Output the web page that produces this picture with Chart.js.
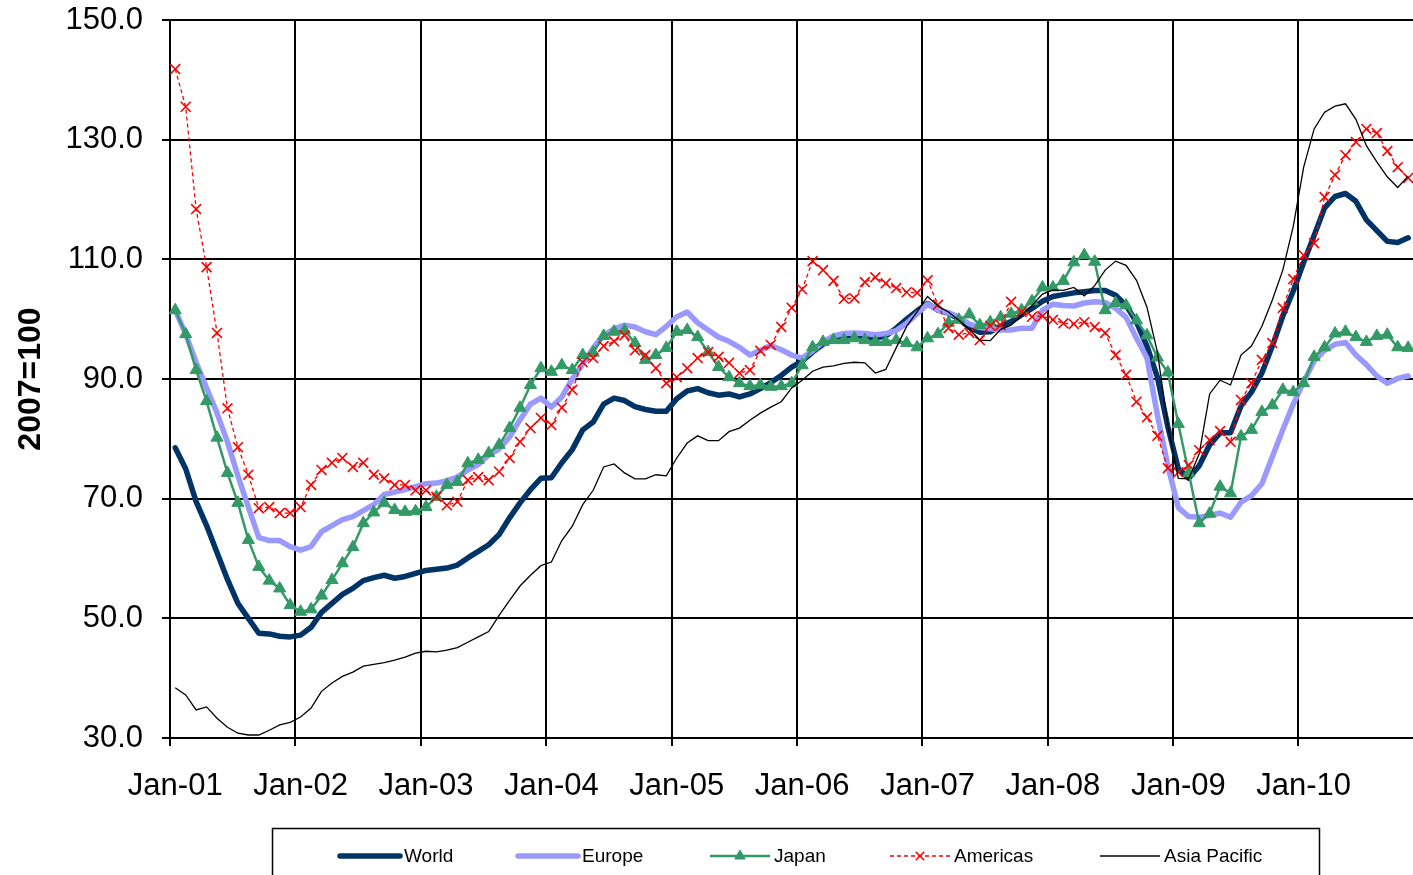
<!DOCTYPE html>
<html>
<head>
<meta charset="utf-8">
<script src="https://cdn.jsdelivr.net/npm/chart.js@4.4.1/dist/chart.umd.min.js"></script>
<style>
  html, body { margin: 0; padding: 0; background: #fff; overflow: hidden; }
  #wrap { width: 1413px; height: 875px; position: relative; overflow: hidden; }
  #chart { position: absolute; left: 0; top: 0; }
</style>
</head>
<body>
<div id="wrap"><canvas id="chart" width="1422" height="875"></canvas></div>
<script>
// months Jan-01 .. Nov-10 (the plot is cut at the right edge, like the original)
const monthNames = ['Jan','Feb','Mar','Apr','May','Jun','Jul','Aug','Sep','Oct','Nov','Dec'];
const years = ['01','02','03','04','05','06','07','08','09','10'];
const categories = [];
years.forEach(y => monthNames.forEach(m => categories.push(m + '-' + y)));
categories.length = 119;

const yTicks = [30, 50, 70, 90, 110, 130, 150];

const world = [
  78.5, 75, 69.5, 65.5, 61, 56.5, 52.5, 50, 47.5, 47.4, 47, 46.9,
  47.2, 48.5, 51, 52.5, 54, 55, 56.3, 56.8, 57.2, 56.7, 57, 57.5,
  58, 58.2, 58.4, 58.9, 60.1, 61.2, 62.3, 64, 66.8, 69.3, 71.5, 73.4,
  73.5, 76, 78.2, 81.5, 82.8, 85.8, 86.8, 86.4, 85.4, 84.9, 84.6, 84.6,
  86.7, 88, 88.4, 87.7, 87.3, 87.5, 87, 87.5, 88.4, 89.4, 90.6, 92,
  93, 94.5, 95.8, 96.6, 97, 97.2, 97, 96.8, 97.2, 98.5, 100, 101.4,
  102.6, 101.5, 101, 100, 98.6, 97.8, 97.9, 98.8, 99.6, 100.7, 101.8, 103,
  103.8, 104.1, 104.4, 104.6, 104.8, 104.8, 104, 102.3, 99.5, 95.5, 90.3, 82,
  75, 73.4, 75.5, 79, 81, 81, 85.5, 87.8, 91, 95.5, 100.5, 104.7,
  109.5, 114, 118.6, 120.5, 121, 119.7, 116.6, 114.8, 113, 112.8, 113.6
];
const europe = [
  101.5, 97.5, 92.8, 88.5, 84.3, 79.5, 73.8, 68.6, 63.5, 63, 63, 62,
  61.4, 62, 64.5, 65.5, 66.5, 67, 68, 69, 70.7, 71.1, 71.5, 72,
  72.5, 72.6, 73, 73.6, 74.8, 75.7, 77.3, 78.3, 80.3, 83.2, 85.8, 86.8,
  85.3, 87, 90, 92.5, 95.2, 97.3, 98.4, 99, 98.7, 97.9, 97.4, 98.8,
  100.4, 101.2, 99.4, 98.2, 97, 96.3, 95.3, 94, 94.8, 95.6, 94.9, 94,
  93.5, 94.7, 96.2, 97.2, 97.6, 97.7, 97.6, 97.4, 97.6, 98.1, 99.3, 100.9,
  102.5, 101.5, 101.1, 100.3, 99.2, 98.6, 98.4, 98.2, 98.2, 98.5, 98.5, 101.5,
  102.5, 102.3, 102.2, 102.7, 102.9, 102.8, 101.8, 100.3, 96.8, 93.5, 84, 75.5,
  68.5, 67, 66.9, 67.2, 67.6, 66.9, 69.4, 70.5, 72.5, 77, 81.5, 85.8,
  89.5, 93, 94.8, 95.8, 96.1, 94, 92.4, 90.5, 89.3, 90.1, 90.5
];
const japan = [
  101.5, 97.5, 91.5, 86.3, 80.2, 74.3, 69.3, 63.1, 58.6, 56.3, 55, 52.2,
  51.1, 51.5, 53.8, 56.4, 59.2, 61.9, 65.9, 67.7, 69.3, 68.1, 67.8, 67.9,
  68.6, 70.3, 72.3, 72.8, 75.9, 76.5, 77.6, 79, 81.8, 85.2, 89, 91.8,
  91.2, 92.3, 91.5, 94, 94.4, 97.2, 97.9, 98.1, 96, 93.2, 94, 95.2,
  97.9, 98.2, 97, 94.5, 92, 90.3, 89.3, 88.8, 89, 88.7, 88.8, 89.3,
  92.3, 95.3, 96.2, 96.5, 96.5, 96.8, 96.5, 96.2, 96.2, 96.5, 96, 95.3,
  96.8, 97.5, 99.4, 99.9, 100.8, 99, 99.5, 100.3, 100.9, 101.5, 103, 105.3,
  105.3, 106.4, 109.5, 110.7, 109.6, 101.5, 102.7, 102.3, 99.8, 97.3, 93.6, 91.1,
  82.5, 74.3, 65.9, 67.5, 72, 70.9, 80.4, 81.5, 84.5, 85.6, 88.2, 87.8,
  89.3, 93.7, 95.3, 97.6, 97.9, 97, 96.2, 97.2, 97.4, 95.3, 95.2
];
const americas = [
  141.8, 135.5, 118.4, 108.7, 97.7, 85.1, 78.6, 74, 68.4, 68.6, 67.6, 67.6,
  68.6, 72.3, 74.8, 76, 76.8, 75.3, 76, 74, 73.4, 72.3, 72.3, 71.4,
  71.4, 70.3, 68.9, 69.5, 73.1, 73.6, 73.1, 74.5, 76.8, 79.5, 81.8, 83.5,
  82.3, 85.2, 88.2, 92.8, 93.5, 95.5, 96.3, 97.3, 94.8, 94, 91.8, 89.3,
  90.3, 91.8, 93.5, 94.5, 93.7, 92.7, 91, 91.5, 94.7, 95.7, 98.7, 101.9,
  105, 109.7, 108.2, 106.4, 103.4, 103.5, 106.2, 107, 106, 105.2, 104.5, 104.4,
  106.5, 102.4, 98.5, 97.4, 97.7, 96.5, 98.9, 99, 102.9, 101.2, 100.4, 100.5,
  99.9, 99.3, 99.2, 99.5, 98.7, 97.7, 94, 90.7, 86.2, 83.6, 80.5, 75.1,
  74.4, 75.6, 78.1, 79.8, 81.3, 79.5, 86.5, 89.3, 93.2, 96, 101.9, 106.7,
  110.7, 112.7, 120.4, 124.1, 127.4, 129.6, 131.8, 131.1, 128.1, 125.4, 123.6
];
const asiaPacific = [
  38.4, 37.2, 34.7, 35.2, 33.3, 31.8, 30.8, 30.5, 30.5, 31.3, 32.2, 32.6,
  33.5, 35, 37.8, 39.2, 40.3, 41, 42, 42.3, 42.6, 43, 43.5, 44.2,
  44.5, 44.4, 44.7, 45.1, 46, 46.9, 47.8, 50.5, 53, 55.4, 57.2, 58.8,
  59.4, 63, 65.4, 69, 71.4, 75.3, 75.8, 74.3, 73.3, 73.3, 74, 73.8,
  76.8, 79.3, 80.5, 79.7, 79.7, 81.2, 81.8, 83.1, 84.3, 85.3, 86.2, 88.5,
  89.8, 91.3, 92, 92.2, 92.6, 92.8, 92.7, 91, 91.6, 95.2, 98.8, 101.2,
  103.8, 102.2, 101.2, 99.8, 98.3, 96.5, 96.4, 98.3, 99, 100.6, 102.3, 104.2,
  104.9, 104.8, 105.3, 103.9, 105.6, 108.2, 109.7, 109, 106.5, 102, 94.5, 82.3,
  73.4, 73.3, 77.5, 87.5, 89.8, 89, 94, 95.5, 98.8, 103.2, 108.2, 115.5,
  125.4, 131.8, 134.6, 135.6, 136, 133.4, 129, 126.3, 123.8, 122, 123.9
];

const FONT = '"Liberation Sans", Arial, sans-serif';

const datasets = [
  { label: 'World', data: world, order: 5, borderColor: '#003366', borderWidth: 5.5,
    pointRadius: 0, borderCapStyle: 'round', borderJoinStyle: 'round' },
  { label: 'Europe', data: europe, order: 4, borderColor: '#9999FF', borderWidth: 5.5,
    pointRadius: 0, borderCapStyle: 'round', borderJoinStyle: 'round' },
  { label: 'Japan', data: japan, order: 3, borderColor: '#339966', borderWidth: 2.5,
    pointStyle: 'triangle', pointRadius: 7, pointBackgroundColor: '#339966',
    pointBorderColor: '#339966', pointBorderWidth: 1 },
  { label: 'Americas', data: americas, order: 2, borderColor: '#FF0000', borderWidth: 1.3,
    borderDash: [4, 3], pointStyle: 'crossRot', pointRadius: 7,
    pointBackgroundColor: '#FF0000', pointBorderColor: '#FF0000', pointBorderWidth: 1.6 },
  { label: 'Asia Pacific', data: asiaPacific, order: 1, borderColor: '#000000', borderWidth: 1.3,
    pointRadius: 0 }
];

// legend drawn in a box under the chart
const boxLegend = {
  id: 'boxLegend',
  afterDraw(chart) {
    const ctx = chart.ctx;
    ctx.save();
    ctx.strokeStyle = '#000';
    ctx.lineWidth = 1.5;
    ctx.strokeRect(272.5, 828.5, 1047, 80);
    const y = 856;
    const xs = [340, 518, 710, 890, 1100];
    ctx.font = '19px ' + FONT;
    ctx.textBaseline = 'middle';
    ctx.textAlign = 'left';
    datasets.forEach((ds, i) => {
      const x = xs[i];
      ctx.save();
      ctx.strokeStyle = ds.borderColor;
      ctx.lineWidth = ds.borderWidth;
      ctx.lineCap = ds.borderCapStyle || 'butt';
      ctx.setLineDash(ds.borderDash || []);
      ctx.beginPath();
      ctx.moveTo(x, y);
      ctx.lineTo(x + 60, y);
      ctx.stroke();
      ctx.restore();
      if (ds.pointRadius) {
        ctx.save();
        ctx.fillStyle = ds.pointBackgroundColor;
        ctx.strokeStyle = ds.pointBorderColor;
        ctx.lineWidth = ds.pointBorderWidth;
        Chart.helpers.drawPoint(ctx, {
          pointStyle: ds.pointStyle, radius: ds.pointRadius - 1, rotation: 0,
          borderWidth: ds.pointBorderWidth
        }, x + 30, y);
        ctx.restore();
      }
      ctx.fillStyle = '#000';
      ctx.fillText(ds.label, x + 64, y + 1);
    });
    ctx.restore();
  }
};

new Chart(document.getElementById('chart'), {
  type: 'line',
  data: { labels: categories, datasets: datasets },
  options: {
    responsive: false,
    animation: false,
    devicePixelRatio: 1,
    layout: { padding: { top: 20, right: 0, left: 0, bottom: 0 } },
    elements: { line: { tension: 0 } },
    plugins: { legend: { display: false }, tooltip: { enabled: false } },
    scales: {
      x: {
        type: 'category',
        offset: true,
        afterFit: s => { s.height = 137; s.paddingLeft = 0; s.paddingRight = 0; },
        grid: {
          offset: true,
          lineWidth: 2,
          tickLength: 8,
          color: c => (c.index % 12 === 0 ? '#000' : 'rgba(0,0,0,0)')
        },
        border: { color: '#000', width: 2 },
        ticks: {
          autoSkip: false,
          maxRotation: 0,
          minRotation: 0,
          padding: 22,
          color: '#000',
          font: { family: FONT, size: 31 },
          callback: (v, i) => (i % 12 === 0 ? categories[i] : '')
        }
      },
      y: {
        min: yTicks[0],
        max: yTicks[yTicks.length - 1],
        afterFit: s => { s.width = 170; s.paddingTop = 0; s.paddingBottom = 0; },
        afterBuildTicks: s => { s.ticks = yTicks.map(v => ({ value: v })); },
        grid: { color: '#000', lineWidth: 2, tickLength: 8 },
        border: { color: '#000', width: 2 },
        ticks: {
          padding: 19,
          color: '#000',
          font: { family: FONT, size: 31 },
          callback: v => Number(v).toFixed(1)
        },
        title: {
          display: true,
          text: '2007=100',
          color: '#000',
          font: { family: FONT, size: 32, weight: 'bold' },
          padding: { top: 12, bottom: 0 }
        }
      }
    }
  },
  plugins: [boxLegend]
});
</script>
</body>
</html>
